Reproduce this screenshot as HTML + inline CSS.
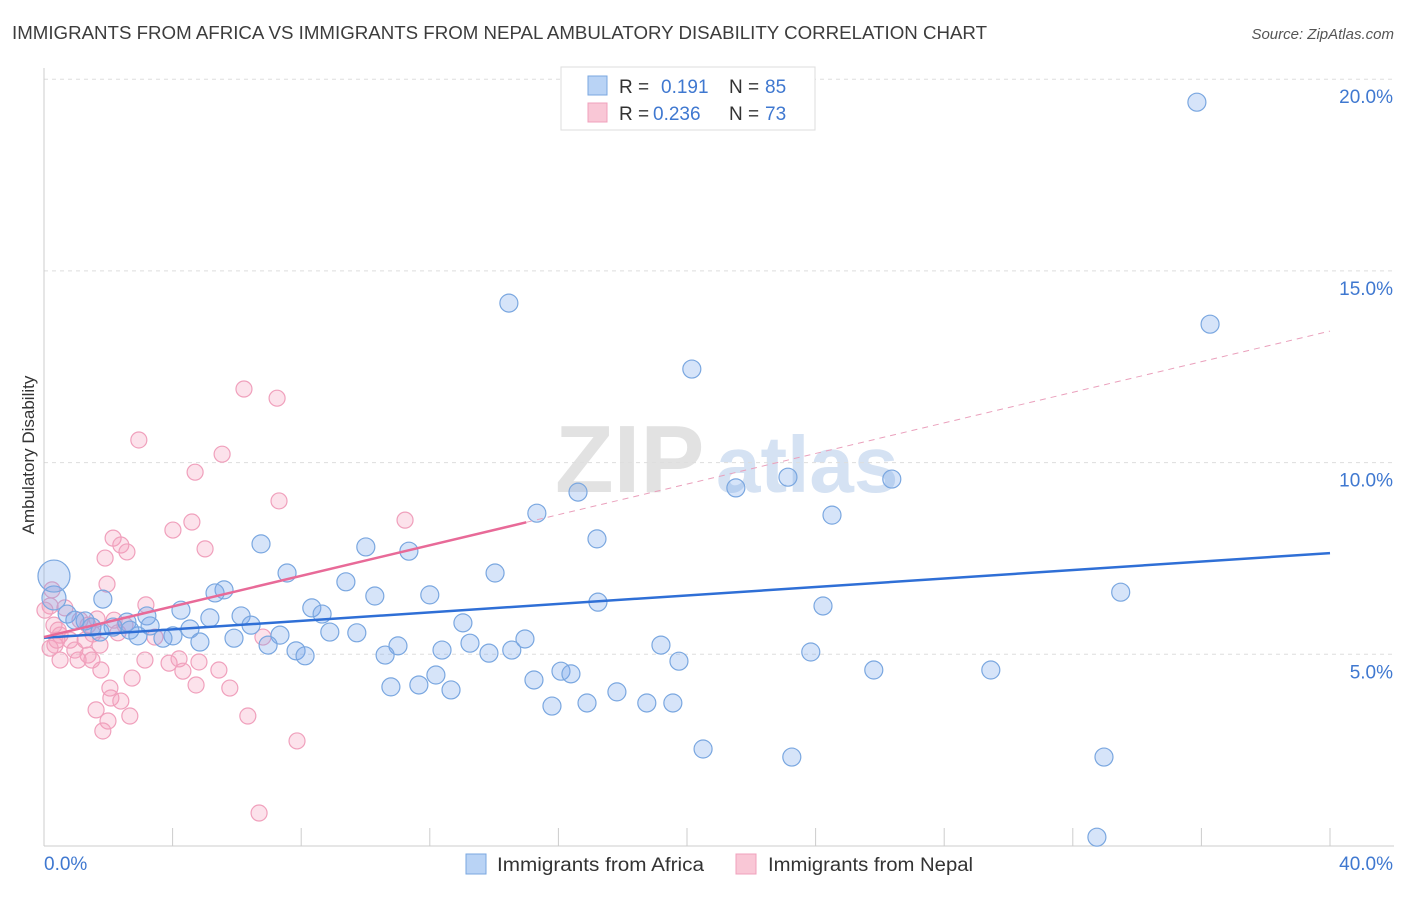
<!DOCTYPE html>
<html><head><meta charset="utf-8"><style>
body{margin:0;background:#fff;font-family:"Liberation Sans",sans-serif;}
svg text{font-family:"Liberation Sans",sans-serif;}
</style></head><body>
<svg id="chart" width="1406" height="892" xmlns="http://www.w3.org/2000/svg">
<text x="12" y="39" font-size="18" fill="#3c3c3c" textLength="975" lengthAdjust="spacingAndGlyphs">IMMIGRANTS FROM AFRICA VS IMMIGRANTS FROM NEPAL AMBULATORY DISABILITY CORRELATION CHART</text>
<text x="1394" y="39" font-size="15" fill="#555" text-anchor="end" font-style="italic">Source: ZipAtlas.com</text>
<g>
<text x="555" y="492" font-size="96" fill="#e2e2e2" font-family="Liberation Serif" font-weight="bold">ZIP</text>
<text x="716" y="492" font-size="80" fill="#d5e2f3" font-weight="bold">atlas</text>
</g>
<g id="grid"></g>
<g id="axes"></g>
<g id="nepal"></g>
<g id="africa"></g>
<g id="trends"></g>
<text transform="translate(34,455) rotate(-90)" font-size="17" fill="#333" text-anchor="middle">Ambulatory Disability</text>
<g>
<rect x="561" y="67" width="254" height="63" fill="#fff" stroke="#ddd"/>
<rect x="588" y="76" width="19" height="19" fill="#b9d3f5" stroke="#7aa7e0"/>
<rect x="588" y="103" width="19" height="19" fill="#f9c7d6" stroke="#f0a0bc"/>
<text x="619" y="93" font-size="19" fill="#333">R = </text><text x="661" y="93" font-size="19" fill="#3f78d0">0.191</text>
<text x="729" y="93" font-size="19" fill="#333">N = </text><text x="765" y="93" font-size="19" fill="#3f78d0">85</text>
<text x="619" y="120" font-size="19" fill="#333">R = </text><text x="653" y="120" font-size="19" fill="#3f78d0">0.236</text>
<text x="729" y="120" font-size="19" fill="#333">N = </text><text x="765" y="120" font-size="19" fill="#3f78d0">73</text>
</g>
<g>
<rect x="466" y="854" width="20" height="20" fill="#b9d3f5" stroke="#7aa7e0"/>
<text x="497" y="871" font-size="19" fill="#333" textLength="207" lengthAdjust="spacingAndGlyphs">Immigrants from Africa</text>
<rect x="736" y="854" width="20" height="20" fill="#f9c7d6" stroke="#f0a0bc"/>
<text x="768" y="871" font-size="19" fill="#333" textLength="205" lengthAdjust="spacingAndGlyphs">Immigrants from Nepal</text>
</g>
</svg>
<script>
const yTicks=[5,10,15,20];
const xTickVals=[0,4,8,12,16,20,24,28,32,36,40];
const xLabels=["0.0%","40.0%"];
const africaX=[35.86,14.46,36.27,20.15,16.61,21.52,23.14,26.37,15.33,24.51,17.20,6.75,10.01,11.35,7.56,14.03,9.39,5.60,5.32,10.29,12.00,33.49,17.23,24.23,1.83,4.26,8.33,8.65,6.13,5.16,13.03,0.31,0.31,0.72,1.28,2.58,3.20,4.54,6.44,7.34,8.89,9.73,14.96,13.25,11.01,14.55,13.84,12.38,19.19,6.97,7.84,8.12,10.61,23.85,19.75,4.85,5.91,4.01,3.70,2.92,2.15,1.49,16.08,16.39,25.81,29.45,12.19,10.79,11.66,12.66,15.24,17.82,16.89,15.80,18.75,19.56,20.50,23.26,32.97,32.75,3.30,2.67,0.96,1.74];
const africaY=[19.40,14.16,13.61,12.44,9.23,9.34,9.62,9.57,8.68,8.63,8.01,7.88,7.80,7.69,7.12,7.12,6.89,6.68,6.60,6.52,6.55,6.62,6.36,6.26,6.44,6.15,6.21,6.05,6.00,5.95,5.82,6.47,7.04,6.05,5.87,5.84,6.00,5.66,5.76,5.50,5.58,5.56,5.40,5.29,5.22,5.11,5.03,5.11,5.24,5.24,5.09,4.96,4.98,5.06,4.82,5.32,5.42,5.48,5.42,5.48,5.71,5.71,4.56,4.49,4.59,4.59,4.46,4.15,4.20,4.07,4.33,4.02,3.73,3.65,3.73,3.73,2.53,2.32,2.32,0.23,5.74,5.63,5.89,5.58];
const africaR=[9,9,9,9,9,9,9,9,9,9,9,9,9,9,9,9,9,9,9,9,9,9,9,9,9,9,9,9,9,9,9,12,16];
const nepalX=[6.22,7.25,2.95,5.54,4.70,7.31,11.23,4.60,4.01,2.15,2.39,2.58,5.01,1.90,1.96,0.25,0.19,3.17,1.65,2.18,2.52,0.65,1.12,1.52,0.50,0.81,0.34,0.96,1.37,1.74,0.31,0.50,3.45,3.14,3.89,4.20,4.82,6.81,5.44,4.32,2.74,1.77,2.05,4.73,5.78,2.08,2.39,1.62,2.67,1.99,1.83,6.34,7.87,6.69,0.03,0.44,1.37,2.30,1.28,0.19,1.06,1.49,0.40];
const nepalY=[11.92,11.68,10.59,10.22,9.75,9.00,8.50,8.45,8.24,8.03,7.85,7.67,7.75,7.51,6.83,6.68,6.26,6.29,5.92,5.89,5.76,6.21,5.89,5.53,5.50,5.37,5.24,5.11,4.98,5.24,5.76,4.85,5.45,4.85,4.77,4.88,4.80,5.45,4.59,4.56,4.38,4.59,4.12,4.20,4.12,3.86,3.78,3.55,3.39,3.26,3.00,3.39,2.74,0.86,6.15,5.63,5.76,5.56,5.37,5.16,4.85,4.85,5.37];
const africaTrend=[5.43,7.64];
const nepalTrend=[5.45,13.43];
const nepalSolidEnd=15;
const NS="http://www.w3.org/2000/svg";
const X=v=>44+v*32.15, Y=v=>846-v*38.34;
function mk(tag,attrs,parent){const e=document.createElementNS(NS,tag);for(const k in attrs)e.setAttribute(k,attrs[k]);parent.appendChild(e);return e;}
const grid=document.getElementById('grid'),axes=document.getElementById('axes');
yTicks.forEach(t=>{
 const l=mk('line',{x1:44,x2:1394,y1:Y(t),y2:Y(t),stroke:'#ddd','stroke-dasharray':'4,4'},grid);
 
 
 const tx=mk('text',{x:1393,y:Y(t)+24,'font-size':19,fill:'#3f78d0','text-anchor':'end'},axes);
 tx.textContent=t.toFixed(1)+'%';
 
 
});
const ax=mk('line',{x1:44,x2:1394,y1:846,y2:846,stroke:'#ccc'},axes);


const ay=mk('line',{x1:44,x2:44,y1:68,y2:846,stroke:'#ccc'},axes);


xTickVals.forEach(t=>{
 const l=mk('line',{x1:X(t),x2:X(t),y1:828,y2:846,stroke:'#ccc'},axes);
 
 
});
const xl0=mk('text',{x:44,y:870,'font-size':19,fill:'#3f78d0'},axes);xl0.textContent=xLabels[0];


const xl1=mk('text',{x:1393,y:870,'font-size':19,fill:'#3f78d0','text-anchor':'end'},axes);xl1.textContent=xLabels[1];


const ng=document.getElementById('nepal');
nepalX.forEach((x,i)=>{
 const c=mk('circle',{cx:X(x),cy:Y(nepalY[i]),r:8,fill:'rgba(244,160,190,0.3)',stroke:'#f0a0bc','stroke-width':1.2},ng);
 
 
});
const ag=document.getElementById('africa');
africaX.forEach((x,i)=>{
 const c=mk('circle',{cx:X(x),cy:Y(africaY[i]),r:africaR[i]||9,fill:'rgba(120,165,235,0.3)',stroke:'#7aa7e0','stroke-width':1.2},ag);
 
 
});
const tg=document.getElementById('trends');
const at=mk('line',{x1:X(0),y1:Y(africaTrend[0]),x2:X(40),y2:Y(africaTrend[1]),stroke:'#2f6fd6','stroke-width':2.5},tg);


const ny=v=>nepalTrend[0]+(nepalTrend[1]-nepalTrend[0])*v/40;
const ns=mk('line',{x1:X(0),y1:Y(ny(0)),x2:X(nepalSolidEnd),y2:Y(ny(nepalSolidEnd)),stroke:'#e86a98','stroke-width':2.5},tg);


const nd=mk('line',{x1:X(nepalSolidEnd),y1:Y(ny(nepalSolidEnd)),x2:X(40),y2:Y(ny(40)),stroke:'#eaa0bc','stroke-width':1,'stroke-dasharray':'6,5'},tg);


</script>
</body></html>
